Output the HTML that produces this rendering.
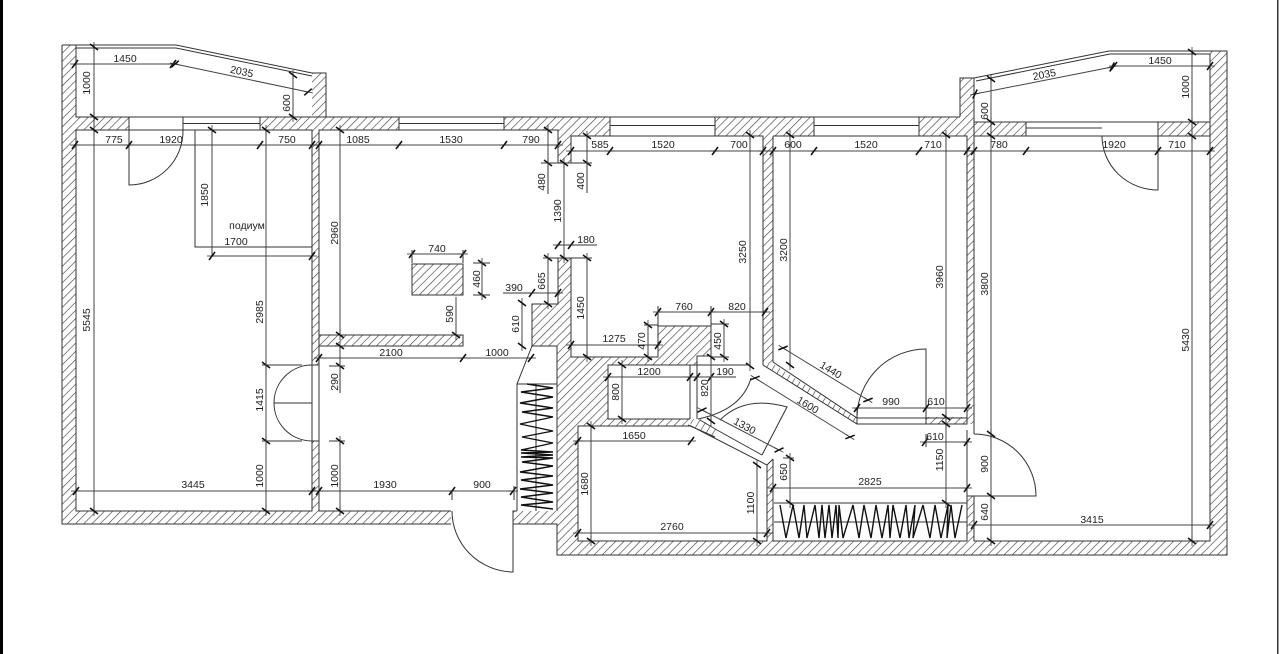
<!DOCTYPE html>
<html><head><meta charset="utf-8"><style>
html,body{margin:0;padding:0;background:#fff;width:1280px;height:654px;overflow:hidden}
svg{display:block;position:absolute;left:0;top:0;filter:blur(.35px)}
.h{fill:url(#hatch);stroke:none}
.b{fill:url(#brick);stroke:none}
.o{fill:none;stroke:#333;stroke-width:1}
.d{fill:none;stroke:#444;stroke-width:1;marker-start:url(#k);marker-mid:url(#k);marker-end:url(#k)}
.s{fill:none;stroke:#444;stroke-width:1;marker-start:url(#k)}
.e{fill:none;stroke:#444;stroke-width:1;marker-end:url(#k)}
.z{fill:none;stroke:#111;stroke-width:1.4}
text{font-family:"Liberation Sans","Noto Sans CJK JP",sans-serif;font-size:10.5px;fill:#222;text-anchor:middle}
</style></head><body>
<svg xmlns="http://www.w3.org/2000/svg" width="1280" height="654" viewBox="0 0 1280 654">
<defs>
<pattern id="hatch" patternUnits="userSpaceOnUse" width="5.8" height="5.8" patternTransform="rotate(45)"><rect width="5.8" height="5.8" fill="#fff"/><line x1="0" y1="0" x2="0" y2="5.8" stroke="#444" stroke-width="1.3"/></pattern>
<pattern id="brick" patternUnits="userSpaceOnUse" width="6" height="6" patternTransform="rotate(31)"><rect width="6" height="6" fill="#fff"/><line x1="0" y1="0" x2="0" y2="6" stroke="#333" stroke-width="1.2"/></pattern>
<marker id="k" markerUnits="userSpaceOnUse" markerWidth="16" markerHeight="16" refX="8" refY="8" orient="auto" overflow="visible"><path d="M3 8H13" stroke="#333" stroke-width=".8"/><path d="M5 12L11 4" stroke="#111" stroke-width="1.6"/></marker>
</defs>
<rect x="0" y="0" width="1280" height="654" fill="#fff"/>
<rect x="0" y="0" width="3" height="654" fill="#000"/>
<rect x="1277" y="0" width="1.5" height="654" fill="#333"/>

<!-- hatched walls -->
<path class="h" d="M62 45H76V511H312V441H319V511H451V524H62Z"/>
<path class="h" d="M76 117H129V130H76Z"/>
<path class="h" d="M260 117H312V73H326V117H399V130H319V335H463V346H319V365H312V130H260Z"/>
<path class="h" d="M412 264H463V295H412Z"/>
<path class="h" d="M504 117H610V136H571V163H558V130H504Z"/>
<path class="h" d="M715 117H814V136H773V362L763 365V136H715Z"/>
<path class="h" d="M919 117H960V78H974V122H1026V136H974V424H967V136H919Z"/>
<path class="h" d="M926 417H967V424H926Z"/>
<path class="h" d="M1158 122H1210V51H1227V555H557V524H513V511H557V346H532V304H558V258H571V357H658V326H711V356H697V365H608V419H690L691 426H578V541H767V465L773 459V541H967V496H974V541H1210V136H1158Z"/>
<path class="b" d="M690 419H700L717 430L715 437L691 426Z"/>
<path class="b" d="M763 365L770 362L857 418V424Z"/>

<!-- outlines -->
<path class="o" d="M62 45H76V117H399M76 130H312V365M76 130V511H312V441M319 441V511H451M451 524H62V45M76 45H176L312 73M76 48H176L312 76M312 73H326V117M129 117V130M183 117V130M260 117V130M183 123.5H260M319 365V130H399V117M399 117H610M399 130H504V117M399 123.5H504M504 130H558V163H571V136H610V117"/>
<path class="o" d="M412 264H463V295H412Z"/>
<path class="o" d="M610 117H960M610 125.5H715M610 136H763V365L857 424H926M715 117V136M773 136H967V424H926M773 136V362L857 418H967M814 117V136M919 117V136M814 125.5H919M960 117V78H974V122H1210M974 78L1109 51H1227V555H557V524H513V511H517M976 81L1110 54H1210V541H974V496M1158 122V136M1026 122V136M974 136H1210M1026 128H1102M974 122V434M967 430V496"/>
<path class="o" d="M312 365H319M312 441H319M312 365V441M319 365V441"/>
<path class="o" d="M319 335H463V346H319M513 511V524M557 511V346H532V304H558V258H571V357H658V326H711V356H697V419M690 365V419M697 365H608V419H690M578 426H691L767 465V541H578ZM700 420L717 430L762 455M688 425L715 437M773 459L767 465M773 459V541H967V496H974V541M557 524V555"/>
<path class="o" d="M857 408V424M926 408V424M195 130V247H312M517 511V384L532 346"/>
<path class="o" d="M774 503H967M774 522H967M517 384H557M536 384V511"/>

<!-- doors -->
<path class="o" d="M129 130V185A54 54 0 0 0 183 130"/>
<path class="o" d="M1158 136V190A56 54 0 0 1 1102 136"/>
<path class="o" d="M312 365A38 38 0 0 0 312 441M274 403H312"/>
<path class="o" d="M513 511V572A62 61 0 0 1 452 511"/>
<path class="o" d="M857 418A69 69 0 0 1 926 349V418"/>
<path class="o" d="M974 434A62 62 0 0 1 1036 496H974"/>
<path class="o" d="M751 378Q742 410 698 419"/>
<path class="o" d="M720 420Q745 395 787 407L762 455"/>

<!-- wardrobes -->
<path class="z" d="M527 384L553 388L521 392L553 397L520 403L553 408L522 412L553 417L520 424L553 431L522 437L553 443L521 450L553 452L521 453L553 455L521 457L553 458L522 462L553 466L520 472L553 476L521 480L553 485L520 489L553 493L521 497L553 502L521 505L553 509"/>
<path class="z" d="M780 505L786 538L793 505L799 538L804 505L807 538L815 505L819 538L822 505L825 538L829 505L832 538L836 505L838 538L839 505L843 538L853 505L859 538L864 505L871 538L876 505L882 538L888 505L890 538L893 505L900 538L906 505L909 538L915 505L913 538L923 505L930 538L935 505L941 538L948 505L947 538L951 505L955 538L962 505"/>

<!-- dimensions -->
<path class="d" d="M75 64H173"/><path class="d" d="M175 64L308 92"/>
<path class="d" d="M94 47V117V130V511"/>
<path class="d" d="M293 75V117"/>
<path class="d" d="M75 145H129H260H312H319H399H504H558"/>
<path class="d" d="M571 151H610H715H763H773H814H919H967H974H1026H1158H1210"/>
<path class="d" d="M975 94L1112 67"/><path class="d" d="M1114 66H1210"/>
<path class="d" d="M1192 52V122V136V541"/>
<path class="d" d="M991 79V122V136V434V496V541"/>
<path class="d" d="M750 135V366"/>
<path class="d" d="M790 135V365"/>
<path class="d" d="M946 135V417"/><path class="d" d="M946 424V503"/>
<path class="s" d="M212 130V256"/><path class="d" d="M212 256H312"/>
<path class="d" d="M340 130V335"/><path class="d" d="M340 346V366"/><path class="o" d="M340 366V393M329 366H345M329 441H345"/><path class="d" d="M340 441V511"/>
<path class="d" d="M266 130V365V441V511"/><path class="o" d="M262 365H302M262 441H302"/>
<path class="d" d="M76 491H312H319H452H513"/><path class="o" d="M452 491V500M514 486V500"/>
<path class="d" d="M319 358H463H531"/>
<path class="d" d="M412 254H463"/><path class="d" d="M482 263V295"/><path class="o" d="M473 263H490M473 295H490M412 250V263M463 250V263"/>
<path class="e" d="M456 297V335"/>
<path class="d" d="M548 130V163"/><path class="o" d="M548 163V194M541 163H558"/>
<path class="d" d="M587 136V163"/><path class="o" d="M587 163V193M571 163H592"/>
<path class="d" d="M564 163V258"/>
<path class="d" d="M558 245H571"/><path class="o" d="M571 245H597"/>
<path class="d" d="M548 258V304"/><path class="o" d="M543 258H558"/>
<path class="d" d="M587 258V357"/><path class="o" d="M571 258H592"/>
<path class="d" d="M532 293H558"/><path class="o" d="M503 293H532"/>
<path class="d" d="M522 303V346"/>
<path class="d" d="M571 345H658"/>
<path class="d" d="M648 325V357"/><path class="o" d="M644 325H658"/>
<path class="d" d="M658 312H711H765"/><path class="o" d="M658 306V326M711 306V326"/>
<path class="d" d="M724 324V357"/><path class="o" d="M711 324H729M711 357H729"/>
<path class="d" d="M608 377H690H697H711"/><path class="o" d="M711 377H736M608 365H750"/>
<path class="d" d="M622 365V419"/>
<path class="d" d="M711 357V421"/>
<path class="d" d="M578 441H691"/>
<path class="d" d="M591 426V541"/>
<path class="d" d="M578 533H767"/>
<path class="d" d="M757 465V541"/>
<path class="d" d="M790 458V503"/><path class="o" d="M783 458H794"/>
<path class="d" d="M773 488H967"/>
<path class="d" d="M925 442H967"/><path class="o" d="M926 434V447"/>
<path class="d" d="M857 408H926H967"/>
<path class="d" d="M974 525H1210"/>
<path class="d" d="M702 410L779 450"/>
<path class="d" d="M755 378L850 437"/>
<path class="d" d="M783 348L868 400"/>

<!-- labels -->
<text x="125" y="62">1450</text>
<text transform="translate(241 75) rotate(12)">2035</text>
<text transform="translate(90 83) rotate(-90)">1000</text>
<text transform="translate(290 103) rotate(-90)">600</text>
<text x="114" y="143">775</text><text x="171" y="143">1920</text><text x="287" y="143">750</text>
<text x="358" y="143">1085</text><text x="451" y="143">1530</text><text x="531" y="143">790</text>
<text x="600" y="148">585</text><text x="663" y="148">1520</text><text x="739" y="148">700</text>
<text x="793" y="148">600</text><text x="866" y="148">1520</text><text x="933" y="148">710</text>
<text x="999" y="148">780</text><text x="1114" y="148">1920</text><text x="1177" y="148">710</text>
<text transform="translate(1045 78) rotate(-11)">2035</text>
<text x="1160" y="64">1450</text>
<text transform="translate(1189 87) rotate(-90)">1000</text>
<text transform="translate(988 111) rotate(-90)">600</text>
<text transform="translate(208 195) rotate(-90)">1850</text>
<text x="247" y="229">подиум</text>
<text x="236" y="245">1700</text>
<text transform="translate(90 320) rotate(-90)">5545</text>
<text transform="translate(263 312) rotate(-90)">2985</text>
<text transform="translate(263 400) rotate(-90)">1415</text>
<text transform="translate(263 476) rotate(-90)">1000</text>
<text transform="translate(338 233) rotate(-90)">2960</text>
<text transform="translate(338 382) rotate(-90)">290</text>
<text transform="translate(338 476) rotate(-90)">1000</text>
<text x="193" y="488">3445</text><text x="385" y="488">1930</text><text x="482" y="488">900</text>
<text x="391" y="356">2100</text><text x="497" y="356">1000</text>
<text x="437" y="252">740</text>
<text transform="translate(480 279) rotate(-90)">460</text>
<text transform="translate(453 314) rotate(-90)">590</text>
<text transform="translate(545 182) rotate(-90)">480</text>
<text transform="translate(584 181) rotate(-90)">400</text>
<text transform="translate(561 211) rotate(-90)">1390</text>
<text x="586" y="243">180</text>
<text transform="translate(545 281) rotate(-90)">665</text>
<text transform="translate(584 308) rotate(-90)">1450</text>
<text x="514" y="291">390</text>
<text transform="translate(519 324) rotate(-90)">610</text>
<text x="614" y="342">1275</text>
<text transform="translate(645 341) rotate(-90)">470</text>
<text x="684" y="310">760</text><text x="737" y="310">820</text>
<text transform="translate(721 341) rotate(-90)">450</text>
<text x="649" y="375">1200</text><text x="725" y="375">190</text>
<text transform="translate(619 392) rotate(-90)">800</text>
<text transform="translate(708 388) rotate(-90)">820</text>
<text x="634" y="439">1650</text>
<text transform="translate(588 484) rotate(-90)">1680</text>
<text x="672" y="530">2760</text>
<text transform="translate(754 503) rotate(-90)">1100</text>
<text transform="translate(787 472) rotate(-90)">650</text>
<text x="870" y="485">2825</text>
<text x="935" y="440">610</text>
<text x="891" y="405">990</text><text x="936" y="405">610</text>
<text transform="translate(743 429) rotate(29)">1330</text>
<text transform="translate(806 408) rotate(31)">1600</text>
<text transform="translate(829 373) rotate(31)">1440</text>
<text transform="translate(746 252) rotate(-90)">3250</text>
<text transform="translate(787 250) rotate(-90)">3200</text>
<text transform="translate(943 277) rotate(-90)">3960</text>
<text transform="translate(943 460) rotate(-90)">1150</text>
<text transform="translate(988 284) rotate(-90)">3800</text>
<text transform="translate(988 464) rotate(-90)">900</text>
<text transform="translate(988 512) rotate(-90)">640</text>
<text transform="translate(1189 340) rotate(-90)">5430</text>
<text x="1092" y="523">3415</text>
</svg>
</body></html>
